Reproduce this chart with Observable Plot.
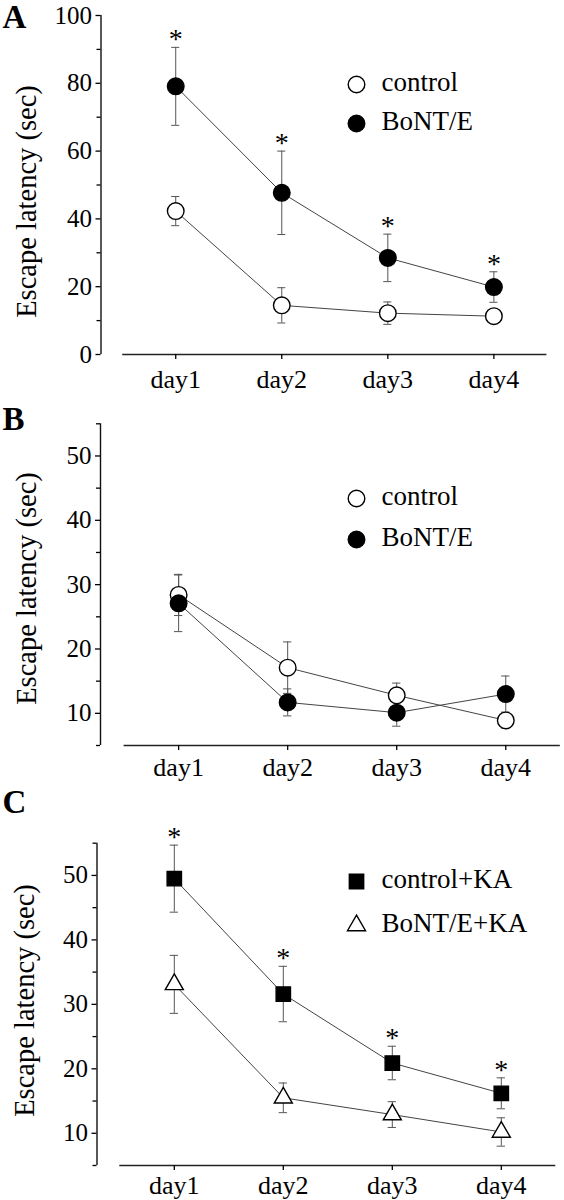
<!DOCTYPE html>
<html><head><meta charset="utf-8">
<script src="https://cdn.jsdelivr.net/npm/d3@7"></script>
<script src="https://cdn.jsdelivr.net/npm/@observablehq/plot@0.6"></script>
</head><body style="margin:0;background:#fff">
<div id="chart" style="width:564px"></div>
<script>
// ---------- data ----------
const days = [1, 2, 3, 4];
const dayLabels = ["day1", "day2", "day3", "day4"];
const yLabel = "Escape latency (sec)";

// Panel A
const aNames = ["control", "BoNT/E"];
const aControl = [42.3, 14.5, 12.2, 11.3];
const aControlErr = [4.3, 5.2, 3.3, 1.0];
const aBont = [79.1, 47.7, 28.5, 19.9];
const aBontErr = [11.5, 12.3, 7.0, 4.5];
const aBontStars = [true, true, true, true];
const aTicks = [0, 20, 40, 60, 80, 100];
const aMinor = [10, 30, 50, 70, 90];

// Panel B
const bNames = ["control", "BoNT/E"];
const bControl = [28.4, 17.1, 12.8, 8.9];
const bControlErr = [3.2, 4.0, 1.9, 1.2];
const bBont = [27.1, 11.7, 10.1, 13.0];
const bBontErr = [4.4, 2.1, 2.1, 2.8];
const bcTicks = [10, 20, 30, 40, 50];
const bcMinor = [5, 15, 25, 35, 45, 55];

// Panel C
const cNames = ["control+KA", "BoNT/E+KA"];
const cControlKA = [49.5, 31.6, 20.9, 16.2];
const cControlKAErr = [5.2, 4.3, 2.6, 2.4];
const cControlKAStars = [true, true, true, true];
const cBontKA = [33.1, 15.5, 12.9, 10.2];
const cBontKAErr = [4.5, 2.3, 2.0, 2.2];
const noStars = [false, false, false, false];

// ---------- drawing ----------
const FONT = "Liberation Serif";
const CAP = 0.038; // half width of error caps in day units

function panel(o) {
  const rows = o.series.flatMap(s => days.map((d, i) => ({
    series: s.name, day: d, value: s.values[i], err: s.errs[i], star: s.stars[i]
  })));
  const marks = [
    // y axis line & ticks
    Plot.ruleX([0.5], {dx: o.axisDx, stroke: "#111", strokeWidth: 1.4}),
    Plot.axisY(o.yMajor, {anchor: "left", tickSize: 5, tickPadding: 4, dx: o.axisDx,
      fontSize: 25, fontFamily: FONT, label: null, strokeWidth: 1.3}),
    Plot.axisY(o.yMinor, {anchor: "left", tickSize: 4, tickFormat: () => "", dx: o.axisDx,
      label: null, strokeWidth: 1.3}),
    // x axis line & ticks
    Plot.ruleY([o.yDomain[0]], {stroke: "#222", strokeWidth: 1.6}),
    Plot.axisX(days, {anchor: "bottom", tickSize: 5, tickPadding: o.xPad, fontSize: 26,
      fontFamily: FONT, tickFormat: d => dayLabels[d - 1], label: null, strokeWidth: 1.3}),
    // y label
    Plot.text([yLabel], {frameAnchor: "top-left", dx: o.labelX - o.marginLeft,
      dy: o.labelY - o.marginTop, rotate: -90, fontSize: 28.5, fontFamily: FONT, text: d => d,
      textAnchor: "middle", lineAnchor: "middle"}),
    // panel letter
    Plot.text([o.letter], {frameAnchor: "top-left", dx: 2 - o.marginLeft,
      dy: o.letterBaseline - o.marginTop, lineAnchor: "bottom", textAnchor: "start",
      fontWeight: "bold", fontSize: 33, fontFamily: FONT, text: d => d}),
    // connecting lines
    Plot.line(rows, {x: "day", y: "value", z: "series", stroke: "#444", strokeWidth: 1}),
    // error bars
    Plot.ruleX(rows, {x: "day", y1: d => d.value - d.err, y2: d => d.value + d.err,
      stroke: "#555", strokeWidth: 1}),
    Plot.ruleY(rows, {y: d => d.value + d.err, x1: d => d.day - CAP, x2: d => d.day + CAP,
      stroke: "#555", strokeWidth: 1}),
    Plot.ruleY(rows, {y: d => d.value - d.err, x1: d => d.day - CAP, x2: d => d.day + CAP,
      stroke: "#555", strokeWidth: 1}),
  ];
  o.series.forEach((s, k) => {
    const sr = rows.filter(r => r.series === s.name);
    marks.push(Plot.dot(sr, {x: "day", y: "value", symbol: s.symbol, r: s.r,
      fill: s.fill, stroke: "#000", strokeWidth: 1.4}));
    marks.push(Plot.text(sr.filter(r => r.star), {x: "day", y: d => d.value + d.err,
      text: () => "*", lineAnchor: "bottom", textAnchor: "middle", dy: 1, fontSize: 28,
      fontFamily: FONT}));
    // legend entry
    marks.push(Plot.dot([0], {frameAnchor: "top-left", dx: o.legendX - o.marginLeft,
      dy: o.legendY[k] - o.marginTop, symbol: s.symbol, r: s.r, fill: s.fill,
      stroke: "#000", strokeWidth: 1.4}));
    marks.push(Plot.text([s.name], {frameAnchor: "top-left", dx: o.legendX + 25 - o.marginLeft,
      dy: o.legendY[k] - o.marginTop - 2, textAnchor: "start", lineAnchor: "middle",
      fontSize: 27, fontFamily: FONT, text: d => d}));
  });
  return Plot.plot({
    width: 564, height: o.height,
    marginTop: o.marginTop, marginBottom: o.marginBottom,
    marginLeft: o.marginLeft, marginRight: o.marginRight,
    style: {fontFamily: FONT, fontSize: "25px"},
    x: {type: "linear", domain: [0.5, 4.5], axis: null},
    y: {type: "linear", domain: o.yDomain, axis: null},
    marks
  });
}

const chart = document.getElementById("chart");
chart.append(panel({
  letter: "A", height: 395, marginTop: 15, marginBottom: 41, marginLeft: 122.2, marginRight: 17.6,
  yDomain: [0, 100], yMajor: aTicks, yMinor: aMinor, axisDx: -21.7, xPad: 10.5,
  labelX: 26, labelY: 201, letterBaseline: 27, legendX: 356, legendY: [84, 123],
  series: [
    {name: aNames[0], values: aControl, errs: aControlErr, stars: noStars, symbol: "circle", r: 8.3, fill: "#fff"},
    {name: aNames[1], values: aBont, errs: aBontErr, stars: aBontStars, symbol: "circle", r: 8.3, fill: "#000"}
  ]
}));
chart.append(panel({
  letter: "B", height: 390, marginTop: 28.3, marginBottom: 40, marginLeft: 123.6, marginRight: 4.2,
  yDomain: [5, 55], yMajor: bcTicks, yMinor: bcMinor, axisDx: -23.6, xPad: 7,
  labelX: 26, labelY: 588 - 395, letterBaseline: 429 - 395, legendX: 356, legendY: [498 - 395, 539 - 395],
  series: [
    {name: bNames[0], values: bControl, errs: bControlErr, stars: noStars, symbol: "circle", r: 8.3, fill: "#fff"},
    {name: bNames[1], values: bBont, errs: bBontErr, stars: noStars, symbol: "circle", r: 8.3, fill: "#000"}
  ]
}));
chart.append(panel({
  letter: "C", height: 415, marginTop: 57.7, marginBottom: 35, marginLeft: 119.3, marginRight: 8.7,
  yDomain: [5, 55], yMajor: bcTicks, yMinor: bcMinor, axisDx: -22.8, xPad: 5,
  labelX: 24, labelY: 1000 - 785, letterBaseline: 812 - 785, legendX: 356, legendY: [881 - 785, 925 - 785],
  series: [
    {name: cNames[0], values: cControlKA, errs: cControlKAErr, stars: cControlKAStars, symbol: "square", r: 8.1, fill: "#000"},
    {name: cNames[1], values: cBontKA, errs: cBontKAErr, stars: noStars, symbol: "triangle", r: 6.7, fill: "#fff"}
  ]
}));
</script></body></html>
